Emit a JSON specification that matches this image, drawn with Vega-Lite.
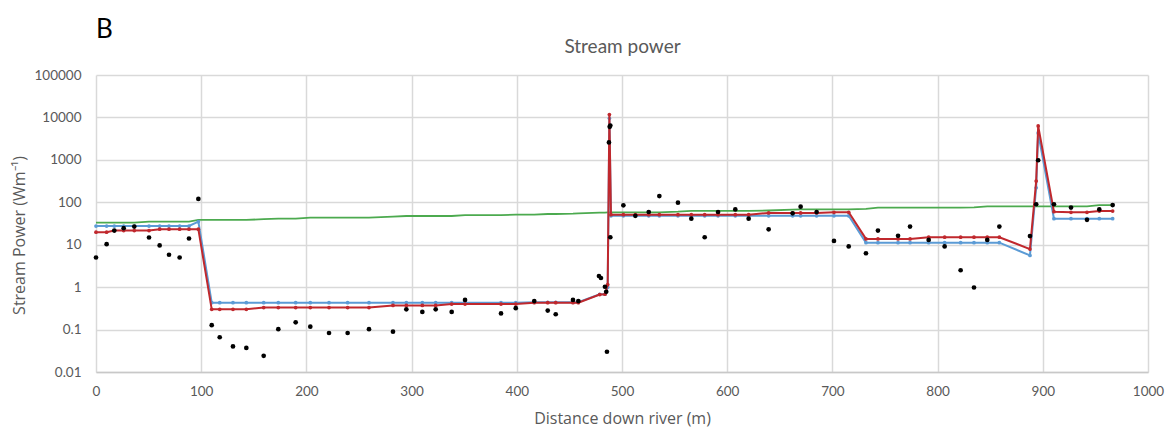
{
  "$schema": "https://vega.github.io/schema/vega-lite/v6.json",
  "width": 1052,
  "height": 297,
  "autosize": "none",
  "padding": {"left": 96, "top": 75, "right": 17, "bottom": 58},
  "background": "white",
  "config": {"font": "Lato", "view": {"stroke": null}},
  "title": {"text": "B", "anchor": "start", "frame": "group", "fontSize": 26, "fontWeight": "normal", "color": "#000000", "offset": -6},
  "resolve": {"axis": {"x": "independent", "y": "independent"}},
  "datasets": {
    "lines": [
      {"d": 0, "blue": 27.6, "red": 19.8, "green": 33},
      {"d": 10.1, "blue": 27.6, "red": 19.8, "green": 33},
      {"d": 17.4, "blue": 27.6, "red": 21.5, "green": 33},
      {"d": 26.3, "blue": 27.6, "red": 21.5, "green": 33},
      {"d": 36.4, "blue": 27.6, "red": 21.5, "green": 33},
      {"d": 50.4, "blue": 27.6, "red": 21.5, "green": 35},
      {"d": 60.5, "blue": 27.6, "red": 23.2, "green": 35},
      {"d": 69.4, "blue": 27.6, "red": 23.2, "green": 35},
      {"d": 79.5, "blue": 27.6, "red": 23.2, "green": 35},
      {"d": 88.4, "blue": 27.6, "red": 23.2, "green": 35},
      {"d": 97.3, "blue": 35, "red": 23.2, "green": 38.5},
      {"d": 110, "blue": 0.43, "red": 0.3, "green": 38.5},
      {"d": 117.6, "blue": 0.43, "red": 0.3, "green": 38.5},
      {"d": 130.2, "blue": 0.43, "red": 0.3, "green": 38.5},
      {"d": 142.9, "blue": 0.43, "red": 0.3, "green": 38.5},
      {"d": 159.4, "blue": 0.43, "red": 0.33, "green": 40},
      {"d": 173.3, "blue": 0.43, "red": 0.33, "green": 41},
      {"d": 189.8, "blue": 0.43, "red": 0.33, "green": 41},
      {"d": 203.7, "blue": 0.43, "red": 0.33, "green": 43.5},
      {"d": 221.5, "blue": 0.43, "red": 0.33, "green": 43.5},
      {"d": 239.2, "blue": 0.43, "red": 0.33, "green": 43.5},
      {"d": 259.5, "blue": 0.43, "red": 0.33, "green": 43.5},
      {"d": 282.3, "blue": 0.43, "red": 0.37, "green": 46},
      {"d": 295, "blue": 0.43, "red": 0.37, "green": 47.5},
      {"d": 310.2, "blue": 0.43, "red": 0.37, "green": 47.5},
      {"d": 322.9, "blue": 0.43, "red": 0.37, "green": 47.5},
      {"d": 338.1, "blue": 0.43, "red": 0.4, "green": 47.5},
      {"d": 350.8, "blue": 0.43, "red": 0.4, "green": 50},
      {"d": 385, "blue": 0.43, "red": 0.4, "green": 50},
      {"d": 399, "blue": 0.43, "red": 0.4, "green": 51},
      {"d": 416.6, "blue": 0.44, "red": 0.43, "green": 51},
      {"d": 429.4, "blue": 0.44, "red": 0.43, "green": 53},
      {"d": 437, "blue": 0.44, "red": 0.43, "green": 53},
      {"d": 453.4, "blue": 0.44, "red": 0.43, "green": 54},
      {"d": 458.5, "blue": 0.44, "red": 0.43, "green": 55},
      {"d": 478.8, "blue": 0.68, "red": 0.67, "green": 57},
      {"d": 483.8, "blue": 0.68, "red": 0.68, "green": 57},
      {"d": 486.4, "blue": 1.0, "red": 1.15, "green": 58},
      {"d": 488, "blue": 9500, "red": 11700, "green": 58},
      {"d": 489.5, "blue": 48, "red": 51, "green": 58},
      {"d": 501.3, "blue": 48, "red": 51, "green": 58},
      {"d": 512.7, "blue": 48, "red": 51, "green": 58},
      {"d": 525.4, "blue": 48, "red": 51, "green": 58},
      {"d": 535.5, "blue": 48, "red": 51, "green": 58},
      {"d": 553.2, "blue": 48, "red": 51, "green": 60},
      {"d": 565.9, "blue": 48, "red": 51, "green": 63},
      {"d": 578.6, "blue": 48, "red": 51, "green": 63},
      {"d": 591.3, "blue": 48, "red": 51, "green": 63},
      {"d": 607.7, "blue": 48, "red": 51, "green": 63},
      {"d": 620.4, "blue": 48, "red": 51, "green": 63},
      {"d": 639.4, "blue": 48, "red": 56, "green": 64},
      {"d": 662.2, "blue": 48, "red": 56, "green": 67},
      {"d": 669.8, "blue": 48, "red": 56, "green": 68},
      {"d": 685, "blue": 48, "red": 56, "green": 68},
      {"d": 701.5, "blue": 48, "red": 58, "green": 68},
      {"d": 715.5, "blue": 48, "red": 58, "green": 68},
      {"d": 731.9, "blue": 11.2, "red": 13.7, "green": 70},
      {"d": 743.3, "blue": 11.2, "red": 13.7, "green": 75},
      {"d": 762.4, "blue": 11.2, "red": 13.7, "green": 75},
      {"d": 773.8, "blue": 11.2, "red": 13.7, "green": 75},
      {"d": 791.5, "blue": 11.2, "red": 15, "green": 75},
      {"d": 806.7, "blue": 11.2, "red": 15, "green": 75},
      {"d": 821.9, "blue": 11.2, "red": 15, "green": 75},
      {"d": 834.6, "blue": 11.2, "red": 15, "green": 76},
      {"d": 847.2, "blue": 11.2, "red": 15, "green": 80},
      {"d": 858.7, "blue": 11.2, "red": 15, "green": 80},
      {"d": 887.8, "blue": 5.6, "red": 7.9, "green": 80},
      {"d": 893.7, "blue": 220, "red": 316, "green": 80},
      {"d": 895.6, "blue": 4300, "red": 6300, "green": 80},
      {"d": 910.6, "blue": 41, "red": 60, "green": 80},
      {"d": 926.8, "blue": 41, "red": 58, "green": 80},
      {"d": 942, "blue": 41, "red": 58, "green": 80},
      {"d": 953.7, "blue": 41, "red": 62, "green": 86},
      {"d": 966.4, "blue": 41, "red": 62, "green": 86}
    ],
    "dots": [
      {"d": 0, "v": 5.0}, {"d": 10.1, "v": 10.3}, {"d": 17.4, "v": 21.5}, {"d": 26.3, "v": 24.5},
      {"d": 36.4, "v": 26.8}, {"d": 50.4, "v": 14.8}, {"d": 60.5, "v": 9.6}, {"d": 69.4, "v": 5.8},
      {"d": 79.5, "v": 5.0}, {"d": 88.4, "v": 14}, {"d": 97.3, "v": 120}, {"d": 110, "v": 0.127},
      {"d": 117.6, "v": 0.066}, {"d": 130.2, "v": 0.04}, {"d": 142.9, "v": 0.037}, {"d": 159.4, "v": 0.024},
      {"d": 173.3, "v": 0.102}, {"d": 189.8, "v": 0.148}, {"d": 203.7, "v": 0.117}, {"d": 221.5, "v": 0.083},
      {"d": 239.2, "v": 0.083}, {"d": 259.5, "v": 0.102}, {"d": 282.3, "v": 0.089}, {"d": 295, "v": 0.3},
      {"d": 310.2, "v": 0.26}, {"d": 322.9, "v": 0.3}, {"d": 338.1, "v": 0.26}, {"d": 350.8, "v": 0.5},
      {"d": 385, "v": 0.24}, {"d": 399, "v": 0.32}, {"d": 416.6, "v": 0.47}, {"d": 429.4, "v": 0.28},
      {"d": 437, "v": 0.23}, {"d": 453.4, "v": 0.5}, {"d": 458.5, "v": 0.47}, {"d": 478.1, "v": 1.83},
      {"d": 480, "v": 1.64}, {"d": 483.8, "v": 1.02}, {"d": 485, "v": 0.78}, {"d": 485.7, "v": 0.03},
      {"d": 487.6, "v": 2570}, {"d": 488.3, "v": 6000}, {"d": 488.9, "v": 6440}, {"d": 488.9, "v": 15},
      {"d": 501.3, "v": 85}, {"d": 512.7, "v": 48}, {"d": 525.4, "v": 59}, {"d": 535.5, "v": 140},
      {"d": 553.2, "v": 98}, {"d": 565.9, "v": 41}, {"d": 578.6, "v": 15}, {"d": 591.3, "v": 59},
      {"d": 607.7, "v": 68}, {"d": 620.4, "v": 41}, {"d": 639.4, "v": 23}, {"d": 662.2, "v": 55},
      {"d": 669.8, "v": 79}, {"d": 685, "v": 59}, {"d": 701.5, "v": 12.3}, {"d": 715.5, "v": 9.1},
      {"d": 731.9, "v": 6.3}, {"d": 743.3, "v": 21.5}, {"d": 762.4, "v": 16.2}, {"d": 773.8, "v": 26.8},
      {"d": 791.5, "v": 13}, {"d": 806.7, "v": 9.1}, {"d": 821.9, "v": 2.5}, {"d": 834.6, "v": 0.98},
      {"d": 847.2, "v": 13}, {"d": 858.7, "v": 26.8}, {"d": 887.8, "v": 16}, {"d": 893.7, "v": 90},
      {"d": 895.6, "v": 980}, {"d": 910.6, "v": 90}, {"d": 926.8, "v": 75}, {"d": 942, "v": 38.5},
      {"d": 953.7, "v": 68}, {"d": 966.4, "v": 86}
    ]
  },
  "layer": [
    {
      "data": {"name": "lines"},
      "mark": {"type": "line", "color": "#4CAA4F", "strokeWidth": 1.8},
      "encoding": {
        "x": {"field": "d", "type": "quantitative", "scale": {"domain": [0, 1000], "nice": false, "zero": false},
          "axis": {"orient": "top", "labels": false, "ticks": false, "domain": false, "grid": false,
            "title": "Stream power", "titleFontSize": 19, "titleFontWeight": "normal", "titleColor": "#595959", "titlePadding": 19}},
        "y": {"field": "green", "type": "quantitative", "scale": {"type": "log", "domain": [0.01, 100000], "nice": false},
          "axis": {"values": [0.01, 0.1, 1, 10, 100, 1000, 10000, 100000], "labelExpr": "'' + datum.value", "labelFlush": false,
            "grid": true, "gridColor": "#D9D9D9", "gridWidth": 1.5, "ticks": false, "domain": false,
            "labelFontSize": 13.5, "labelColor": "#595959", "labelPadding": 15,
            "title": "Stream Power (Wm⁻¹)", "titleFont": "Open Sans", "titleFontSize": 16, "titleFontWeight": "normal", "titleColor": "#595959",
            "titleX": -69, "titleY": 160}}
      }
    },
    {
      "data": {"name": "lines"},
      "mark": {"type": "line", "color": "#5B9BD5", "strokeWidth": 2, "point": {"filled": true, "size": 14, "color": "#5B9BD5", "opacity": 1}},
      "encoding": {
        "x": {"field": "d", "type": "quantitative", "scale": {"domain": [0, 1000], "nice": false, "zero": false},
          "axis": {"orient": "bottom", "values": [0, 100, 200, 300, 400, 500, 600, 700, 800, 900, 1000], "format": "d", "labelFlush": false,
            "grid": true, "gridColor": "#D9D9D9", "gridWidth": 1.5, "ticks": false, "domain": true, "domainColor": "#C8C8C8", "domainWidth": 1.5,
            "labelFontSize": 13.5, "labelColor": "#595959", "labelPadding": 12,
            "title": "Distance down river (m)", "titleFont": "Open Sans", "titleFontSize": 16, "titleFontWeight": "normal", "titleColor": "#595959", "titlePadding": 13}},
        "y": {"field": "blue", "type": "quantitative", "scale": {"type": "log", "domain": [0.01, 100000], "nice": false}, "axis": null}
      }
    },
    {
      "data": {"name": "lines"},
      "mark": {"type": "line", "color": "#C0282D", "strokeWidth": 2, "point": {"filled": true, "size": 14, "color": "#C0282D", "opacity": 1}},
      "encoding": {
        "x": {"field": "d", "type": "quantitative", "scale": {"domain": [0, 1000], "nice": false, "zero": false}, "axis": null},
        "y": {"field": "red", "type": "quantitative", "scale": {"type": "log", "domain": [0.01, 100000], "nice": false}, "axis": null}
      }
    },
    {
      "data": {"name": "dots"},
      "mark": {"type": "point", "filled": true, "color": "#000000", "size": 22, "opacity": 1},
      "encoding": {
        "x": {"field": "d", "type": "quantitative", "scale": {"domain": [0, 1000], "nice": false, "zero": false}, "axis": null},
        "y": {"field": "v", "type": "quantitative", "scale": {"type": "log", "domain": [0.01, 100000], "nice": false}, "axis": null}
      }
    }
  ]
}
